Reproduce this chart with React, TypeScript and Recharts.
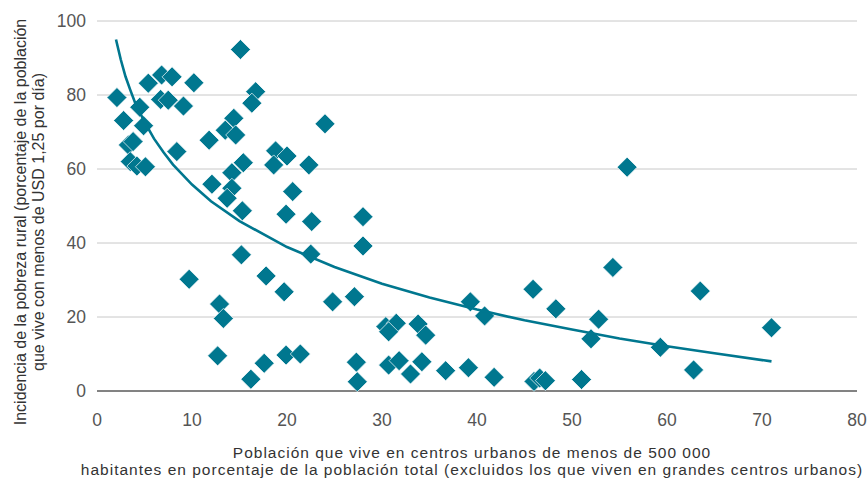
import { ScatterChart, Scatter, XAxis, YAxis, CartesianGrid, Label } from 'recharts';

const TEAL = '#00778f';
const FONT = '"Liberation Sans", Arial, sans-serif';

// población en centros urbanos pequeños (%) / incidencia de la pobreza rural (%)
const urbanShare = [
  2.1, 2.8, 3.3, 3.8, 3.5, 4.2, 5.1, 4.5, 4.9, 5.4, 6.8, 7.9, 6.7, 7.5, 9.1, 10.2, 8.4, 11.8,
  15.1, 16.7, 16.3, 14.4, 13.5, 14.6, 24.0, 18.8, 20.0, 18.6, 22.3, 15.4, 14.2, 12.1, 14.2, 13.7,
  20.6, 15.3, 19.9, 22.6, 28.0, 28.0, 22.5, 15.2, 9.7, 17.8, 19.7, 24.8, 27.1, 12.9, 13.3, 12.7,
  19.9, 21.4, 17.6, 16.2, 27.3, 27.4, 30.4, 31.5, 30.7, 33.8, 34.6, 30.7, 31.8, 34.2, 33.0, 36.7,
  39.1, 41.8, 39.3, 40.8, 45.9, 48.3, 52.8, 52.0, 55.8, 54.3, 59.3, 62.8, 63.5, 46.0, 46.6, 47.2,
  51.0, 71.0,
];
const ruralPoverty = [
  79.3, 73.1, 66.5, 67.4, 62.0, 60.8, 60.6, 76.7, 71.7, 83.2, 85.4, 84.9, 78.8, 78.6, 77.0, 83.3, 64.7, 67.8,
  92.3, 80.9, 77.8, 73.7, 70.5, 69.2, 72.2, 64.9, 63.5, 61.1, 61.1, 61.7, 59.0, 55.9, 54.8, 52.1,
  53.9, 48.7, 47.8, 45.8, 47.1, 39.2, 37.0, 36.8, 30.2, 31.1, 26.8, 24.1, 25.5, 23.5, 19.6, 9.5,
  9.7, 10.0, 7.5, 3.2, 7.8, 2.5, 17.4, 18.3, 16.0, 18.1, 15.1, 7.0, 8.2, 7.9, 4.6, 5.5,
  6.3, 3.7, 24.1, 20.3, 27.5, 22.2, 19.4, 14.1, 60.5, 33.4, 11.8, 5.7, 27.0, 2.6, 3.5, 2.8,
  3.1, 17.1,
];

// curva de tendencia
const trendX = [2, 2.5, 3, 3.5, 4, 5, 6, 7, 8, 10, 12, 15, 20, 25, 30, 35, 40, 45, 50, 55, 60, 65, 71];
const trendY = [95, 89.6, 85, 81.4, 78, 72.7, 68.2, 64.5, 61.2, 55.8, 51.3, 45.9, 38.9, 33.5, 29, 25.3, 22, 19.1, 16.6, 14.2, 12.1, 10.2, 8];

const xTicks = [0, 10, 20, 30, 40, 50, 60, 70, 80];
const yTicks = [0, 20, 40, 60, 80, 100];

const points = urbanShare.map((x, i) => ({ x, y: ruralPoverty[i] }));
const trend = trendX.map((x, i) => ({ x, y: trendY[i] }));

const Diamond = (props: any) => {
  const { cx, cy } = props;
  const r = 10;
  return (
    <polygon
      points={`${cx},${cy - r} ${cx + r},${cy} ${cx},${cy + r} ${cx - r},${cy}`}
      fill={TEAL}
      stroke="#ffffff"
      strokeWidth={0.7}
    />
  );
};

// x tick labels sit ~35px under the axis line
const XTick = (props: any) => {
  const { x, payload } = props;
  return (
    <text x={x} y={426} textAnchor="middle" fontFamily={FONT} fontSize={17.5} fill="#555">
      {payload.value}
    </text>
  );
};

const XTitle = (props: any) => {
  const { viewBox } = props;
  const cx = viewBox.x + viewBox.width / 2 - 5;
  return (
    <text x={cx} y={viewBox.y + 67} textAnchor="middle" fontFamily={FONT} fontSize={15.5} letterSpacing={1} fill="#333">
      <tspan x={cx} dy={0}>Población que vive en centros urbanos de menos de 500 000</tspan>
      <tspan x={cx} dy={17}>habitantes en porcentaje de la población total (excluidos los que viven en grandes centros urbanos)</tspan>
    </text>
  );
};

const YTitle = () => {
  return (
    <text transform="translate(26,222) rotate(-90)" textAnchor="middle" fontFamily={FONT} fontSize={16} fill="#333">
      <tspan x={0} dy={0}>Incidencia de la pobreza rural (porcentaje de la población</tspan>
      <tspan x={0} dy={18}>que vive con menos de USD 1,25 por día)</tspan>
    </text>
  );
};

export default function App() {
  return (
    <div style={{ position: 'absolute', left: 0, top: 0 }}>
      <ScatterChart width={868} height={479} margin={{ top: 21, right: 11, bottom: 0, left: 37 }}>
        <CartesianGrid vertical={false} stroke="#c8c8c8" strokeWidth={1} />
        <XAxis
          type="number"
          dataKey="x"
          domain={[0, 80]}
          ticks={xTicks}
          interval={0}
          height={88}
          tickLine={false}
          axisLine={{ stroke: '#222', strokeWidth: 1.2 }}
          tick={XTick}
        >
          <Label content={XTitle} />
        </XAxis>
        <YAxis
          type="number"
          dataKey="y"
          domain={[0, 100]}
          ticks={yTicks}
          interval={0}
          width={60}
          tickLine={false}
          axisLine={false}
          tick={{ fill: '#555', fontSize: 17.5, fontFamily: FONT }}
          tickMargin={5}
        >
          <Label content={YTitle} />
        </YAxis>
        <Scatter data={points} shape={Diamond} isAnimationActive={false} />
        <Scatter
          data={trend}
          line={{ stroke: TEAL, strokeWidth: 2.6 }}
          lineType="joint"
          shape={() => <g />}
          isAnimationActive={false}
        />
      </ScatterChart>
    </div>
  );
}
